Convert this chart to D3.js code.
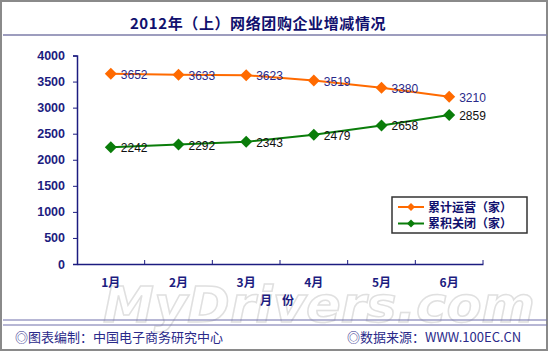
<!DOCTYPE html>
<html>
<head>
<meta charset="utf-8">
<script src="https://cdn.jsdelivr.net/npm/d3@7"></script>
<style>
body { margin: 0; background: #fff; }
svg { display: block; }
</style>
</head>
<body>
<div id="chart"></div>
<script>
const months = ['1月', '2月', '3月', '4月', '5月', '6月']
const running = [3652, 3633, 3623, 3519, 3380, 3210]
const closed = [2242, 2292, 2343, 2479, 2658, 2859]
const yTicks = [0, 500, 1000, 1500, 2000, 2500, 3000, 3500, 4000]
const seriesNames = ['累计运营（家）', '累积关闭（家）']

const navy = '#1c1c80'
const orange = '#ff6a00'
const green = '#0a7d0a'
const font = '"Noto Sans CJK SC", "DejaVu Sans", sans-serif'
const latin = '"Liberation Sans", Arial, sans-serif'

const width = 550
const height = 352

const svg = d3.select('#chart')
	.append('svg')
	.attr('width', width)
	.attr('height', height)
	.style('font-family', font)

// frame
svg.append('rect')
	.attr('x', 1).attr('y', 1)
	.attr('width', width - 4).attr('height', height - 3)
	.attr('fill', '#fff')
	.attr('stroke', '#8a8a8a')
	.attr('stroke-width', 2)

// watermark
svg.append('text')
	.attr('x', 103).attr('y', 322)
	.attr('textLength', 432)
	.attr('lengthAdjust', 'spacingAndGlyphs')
	.attr('font-family', '"DejaVu Sans", sans-serif')
	.attr('font-size', 50)
	.attr('font-weight', 'bold')
	.attr('font-style', 'italic')
	.attr('fill', '#fff')
	.attr('stroke', '#e0e0e0')
	.attr('stroke-width', 1.5)
	.text('MyDrivers.com')

// title
svg.append('text')
	.attr('x', 258).attr('y', 29)
	.attr('text-anchor', 'middle')
	.attr('font-size', 15)
	.attr('font-weight', 'bold')
	.attr('letter-spacing', 0.6)
	.attr('fill', '#10106e')
	.text('2012年（上）网络团购企业增减情况')

svg.append('line')
	.attr('x1', 3).attr('x2', width - 3)
	.attr('y1', 35).attr('y2', 35)
	.attr('stroke', '#7c7ca8').attr('stroke-width', 1.5)

const x = d3.scaleBand().domain(months).range([77, 483])
const y = d3.scaleLinear().domain([0, 4000]).range([264, 55.5])

const yAxis = svg.append('g')
	.attr('transform', 'translate(77,0)')
	.call(d3.axisLeft(y).tickValues(yTicks).tickSize(4).tickPadding(8).tickFormat(d3.format('d')))
yAxis.select('.domain').attr('stroke', navy).attr('stroke-width', 1.5)
yAxis.selectAll('.tick line').attr('stroke', navy)
yAxis.selectAll('.tick text')
	.attr('fill', navy)
	.attr('font-size', 12.5)
	.attr('font-weight', 'bold')
	.attr('font-family', latin)

const xAxis = svg.append('g')
	.attr('transform', 'translate(0,264)')
	.call(d3.axisBottom(x).tickSize(0).tickPadding(14))
xAxis.select('.domain').attr('stroke', navy).attr('stroke-width', 1.5)
xAxis.selectAll('.tick text')
	.attr('fill', navy)
	.attr('font-size', 12)
	.attr('font-weight', 'bold')
	.attr('font-family', font)

// band boundary ticks pointing up
xAxis.selectAll('.bound')
	.data(months)
	.enter()
	.append('line')
	.attr('x1', (d, i) => x(months[0]) + x.bandwidth() * (i + 1))
	.attr('x2', (d, i) => x(months[0]) + x.bandwidth() * (i + 1))
	.attr('y1', 0).attr('y2', -4)
	.attr('stroke', navy)

svg.append('text')
	.attr('x', 282).attr('y', 305)
	.attr('text-anchor', 'middle')
	.attr('font-size', 12)
	.attr('font-weight', 'bold')
	.attr('letter-spacing', 10)
	.attr('fill', navy)
	.text('月份')

const cx = m => x(m) + x.bandwidth() / 2
const line = d3.line().x((d, i) => cx(months[i])).y(d => y(d))
const diamond = r => `M0,${-r}L${r},0L0,${r}L${-r},0Z`

const series = [
	{ values: running, color: orange, labelColor: '#2a2a8a' },
	{ values: closed, color: green, labelColor: '#111' }
]

series.forEach(s => {
	svg.append('path')
		.datum(s.values)
		.attr('d', line)
		.attr('fill', 'none')
		.attr('stroke', s.color)
		.attr('stroke-width', 2)

	svg.append('g')
		.selectAll('path')
		.data(s.values)
		.enter()
		.append('path')
		.attr('d', diamond(6))
		.attr('transform', (d, i) => `translate(${cx(months[i])},${y(d)})`)
		.attr('fill', s.color)

	svg.append('g')
		.selectAll('text')
		.data(s.values)
		.enter()
		.append('text')
		.attr('x', (d, i) => cx(months[i]) + 10)
		.attr('y', d => y(d) + 5)
		.attr('font-size', 12)
		.attr('font-family', latin)
		.attr('fill', s.labelColor)
		.text(d => d)
})

// legend
const legend = svg.append('g').attr('transform', 'translate(392,197)')
legend.append('rect')
	.attr('width', 135).attr('height', 36)
	.attr('fill', '#fff')
	.attr('stroke', '#333').attr('stroke-width', 1.5)

series.forEach((s, i) => {
	const ly = 10 + i * 16.5
	legend.append('line')
		.attr('x1', 6).attr('x2', 32)
		.attr('y1', ly).attr('y2', ly)
		.attr('stroke', s.color).attr('stroke-width', 2)
	legend.append('path')
		.attr('d', diamond(4))
		.attr('transform', `translate(19,${ly})`)
		.attr('fill', s.color)
	legend.append('text')
		.attr('x', 36).attr('y', ly + 4.5)
		.attr('font-size', 12)
		.attr('font-weight', 'bold')
		.attr('fill', '#10106e')
		.text(seriesNames[i])
})

// footer
svg.append('line')
	.attr('x1', 3).attr('x2', width - 3)
	.attr('y1', 320).attr('y2', 320)
	.attr('stroke', '#6f6faa').attr('stroke-width', 1)
svg.append('line')
	.attr('x1', 3).attr('x2', width - 3)
	.attr('y1', 325).attr('y2', 325)
	.attr('stroke', '#6f6faa').attr('stroke-width', 1)

svg.append('text')
	.attr('x', 15).attr('y', 342)
	.attr('font-size', 13)
	.attr('fill', '#2a2a8a')
	.text('◎图表编制：中国电子商务研究中心')

svg.append('text')
	.attr('x', 347).attr('y', 342)
	.attr('font-size', 13)
	.attr('fill', '#2a2a8a')
	.text('◎数据来源：WWW.100EC.CN')
</script>
</body>
</html>
